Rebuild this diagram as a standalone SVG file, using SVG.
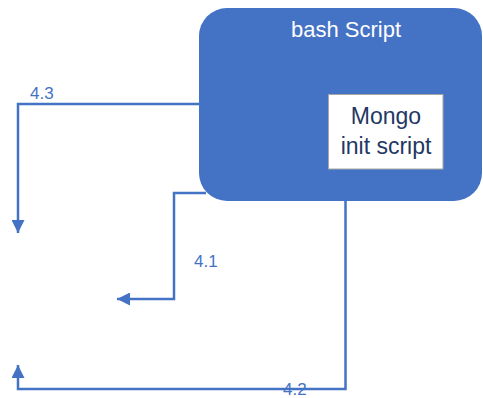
<svg xmlns="http://www.w3.org/2000/svg" width="483" height="398" viewBox="0 0 483 398">
<style>
.conn{fill:none;stroke:#4472C4;stroke-width:2.5}
.lbl{font-family:"Liberation Sans",Arial,sans-serif;font-size:17px;fill:#4472C4}
</style>
<defs>
<marker id="ah" viewBox="0 0 10 10" refX="10" refY="5" markerWidth="5.2" markerHeight="5.2" orient="auto" markerUnits="strokeWidth">
<path d="M0,0 L10,5 L0,10 z" fill="#4472C4"/>
</marker>
</defs>
<rect width="483" height="398" fill="#ffffff"/>
<g id="connectors">
<path class="conn" d="M200,104 H18 V233" marker-end="url(#ah)"/>
<path class="conn" d="M206,193 H174 V299 H117" marker-end="url(#ah)"/>
<path class="conn" d="M345.5,201 V389 H18 V365" marker-end="url(#ah)"/>
</g>
<g id="bash-script">
<rect x="199" y="8" width="283" height="193" rx="28" ry="28" fill="#4472C4"/>
<text x="346" y="37" text-anchor="middle" font-family="Liberation Sans, Arial, sans-serif" font-size="22" fill="#ffffff">bash Script</text>
</g>
<g id="mongo-init-script">
<rect x="328.5" y="94.5" width="114.5" height="74.5" fill="#ffffff" stroke="#A6A6A6" stroke-width="1"/>
<text x="386" y="124" text-anchor="middle" font-family="Liberation Sans, Arial, sans-serif" font-size="23" fill="#1F3864">Mongo</text>
<text x="386" y="154" text-anchor="middle" font-family="Liberation Sans, Arial, sans-serif" font-size="23" fill="#1F3864">init script</text>
</g>
<g id="labels">
<text class="lbl" x="30" y="99">4.3</text>
<text class="lbl" x="194" y="267">4.1</text>
<text class="lbl" x="283" y="395">4.2</text>
</g>
</svg>
